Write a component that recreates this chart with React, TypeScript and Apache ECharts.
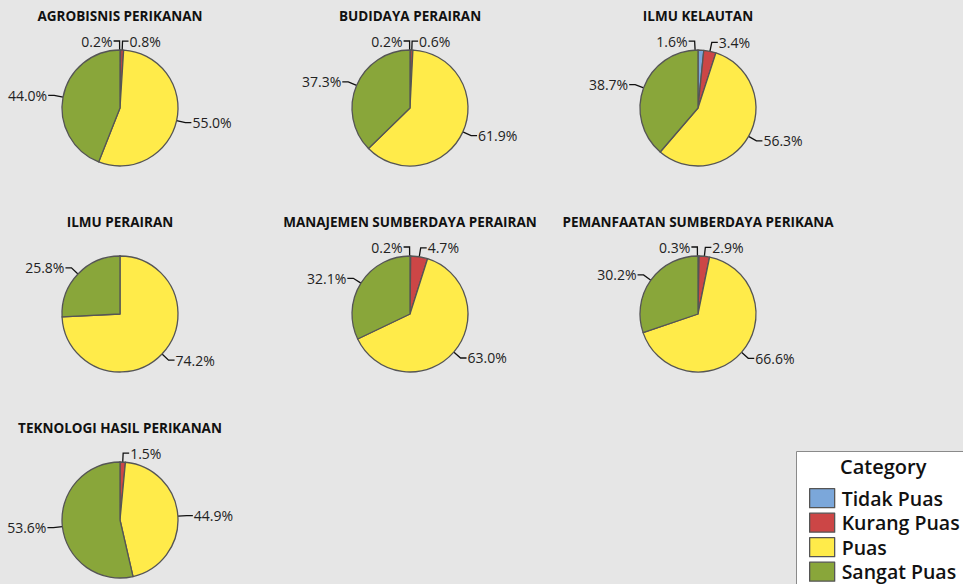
import React, { useEffect, useRef } from "react";
import * as echarts from "echarts";

const categories = ["Tidak Puas", "Kurang Puas", "Puas", "Sangat Puas"];
const colors = ["#7BA7DA", "#CC4646", "#FFEB4A", "#89A63A"];

const panelTitles = [
  "AGROBISNIS PERIKANAN",
  "BUDIDAYA PERAIRAN",
  "ILMU KELAUTAN",
  "ILMU PERAIRAN",
  "MANAJEMEN SUMBERDAYA PERAIRAN",
  "PEMANFAATAN SUMBERDAYA PERIKANA",
  "TEKNOLOGI HASIL PERIKANAN",
];

const agrobisnis = [0.2, 0.8, 55.0, 44.0];
const budidaya = [0.2, 0.6, 61.9, 37.3];
const ilmuKelautan = [1.6, 3.4, 56.3, 38.7];
const ilmuPerairan = [0, 0, 74.2, 25.8];
const manajemen = [0.2, 4.7, 63.0, 32.1];
const pemanfaatan = [0.3, 2.9, 66.6, 30.2];
const teknologi = [0, 1.5, 44.9, 53.6];

const panelValues = [agrobisnis, budidaya, ilmuKelautan, ilmuPerairan, manajemen, pemanfaatan, teknologi];

const FONT = "'Open Sans', 'Noto Sans', sans-serif";

export default function App() {
  const ref = useRef<HTMLDivElement>(null);
  useEffect(() => {
    if (!ref.current) return;
    const chart = echarts.init(ref.current, null, { renderer: "svg" });
    const colX = [120, 410, 698];
    const rowY = [108, 314, 520];
    const titleY = [16, 222, 428];
    const radius = 58;

    const titles = panelTitles.map((t, i) => ({
      text: t,
      left: colX[i % 3],
      top: titleY[Math.floor(i / 3)],
      textAlign: "center",
      textVerticalAlign: "middle",
      padding: 0,
      textStyle: { fontFamily: FONT, fontSize: 13.5, fontWeight: "bold", color: "#111" },
    }));

    const series = panelValues.map((vals, i) => {
      const cx = colX[i % 3];
      return {
        type: "pie",
        name: panelTitles[i],
        center: [cx, rowY[Math.floor(i / 3)]],
        radius: radius,
        startAngle: 90,
        clockwise: true,
        minShowLabelAngle: 0.5,
        avoidLabelOverlap: false,
        label: {
          show: true,
          position: "outside",
          fontFamily: FONT,
          fontSize: 14,
          color: "#222",
          distanceToLabelLine: 1,
          formatter: (p: any) => p.value.toFixed(1) + "%",
        },
        labelLine: { show: true, length: 9, length2: 6, lineStyle: { color: "#111", width: 1.3 } },
        labelLayout: (params: any) => {
          const pts = params.labelLinePoints;
          if (params.dataIndex !== 0 || !pts || !pts.length) return {};
          const mirrored = pts.map((p: number[]) => [2 * cx - p[0], p[1]]);
          const end = mirrored[mirrored.length - 1];
          return {
            x: end[0] - 1,
            y: end[1],
            align: "right",
            verticalAlign: "middle",
            labelLinePoints: mirrored,
          };
        },
        itemStyle: { borderColor: "#555", borderWidth: 1.3 },
        emphasis: { disabled: true },
        data: vals.map((v, k) => ({ name: categories[k], value: v, itemStyle: { color: colors[k] } })),
      };
    });

    chart.setOption({
      animation: false,
      backgroundColor: "#E6E6E6",
      title: titles,
      legend: {
        orient: "vertical",
        left: 804,
        top: 483,
        height: 200,
        itemWidth: 25,
        itemHeight: 19,
        itemGap: 4.2,
        icon: "rect",
        data: categories,
        itemStyle: { borderColor: "#555", borderWidth: 1.3 },
        textStyle: {
          fontFamily: FONT,
          fontSize: 19.5,
          fontWeight: 600,
          lineHeight: 19,
          color: "#111",
          padding: [0, 0, 0, 2],
        },
        selectedMode: false,
      },
      graphic: [
        {
          type: "rect",
          z: -1,
          shape: { x: 796.5, y: 451.5, width: 200, height: 200 },
          style: { fill: "#fff", stroke: "#8a8a8a", lineWidth: 1 },
        },
        {
          type: "text",
          left: 840,
          top: 456,
          style: { text: "Category", font: `600 20px ${FONT}`, fill: "#111" },
        },
      ],
      series,
    });
    return () => chart.dispose();
  }, []);
  return <div ref={ref} style={{ position: "fixed", left: 0, top: 0, width: 963, height: 584 }} />;
}
